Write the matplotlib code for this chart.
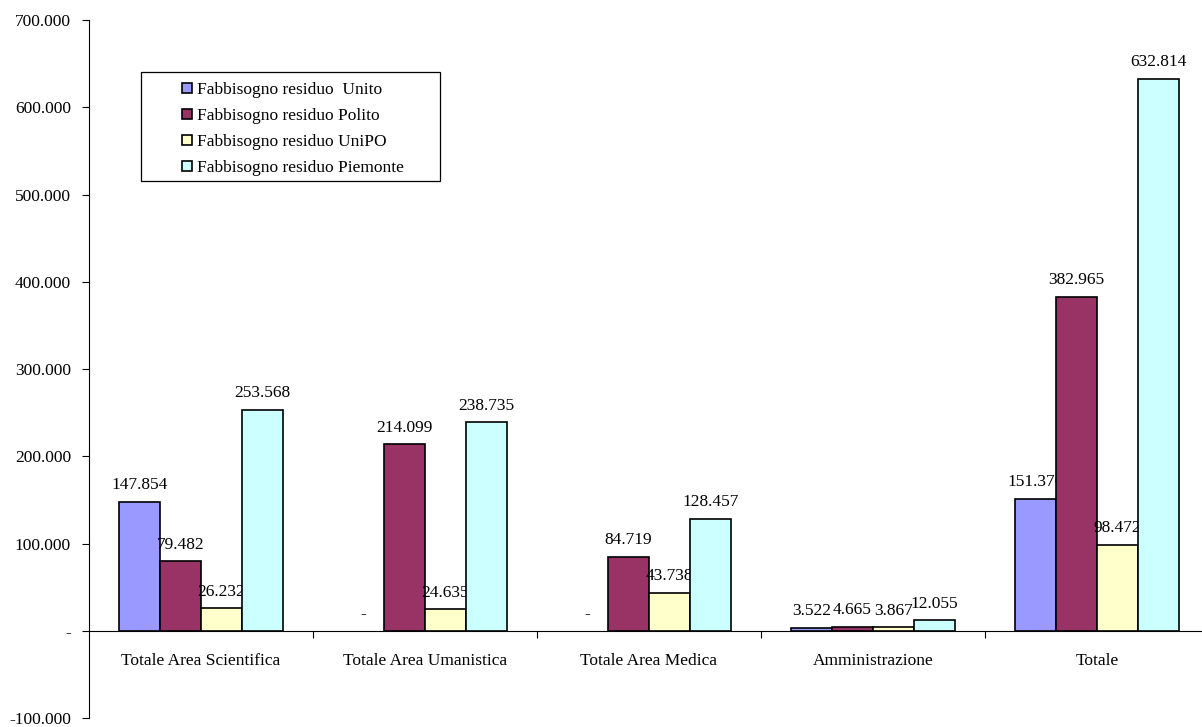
import numpy as np
import matplotlib
matplotlib.use("Agg")
import matplotlib.pyplot as plt
from matplotlib.patches import Rectangle
from matplotlib.ticker import FuncFormatter, FixedLocator

plt.rcParams['font.family'] = ['Liberation Serif', 'DejaVu Serif']

categories = ['Totale Area Scientifica', 'Totale Area Umanistica', 'Totale Area Medica',
              'Amministrazione', 'Totale']
series_names = ['Fabbisogno residuo  Unito', 'Fabbisogno residuo Polito',
                'Fabbisogno residuo UniPO', 'Fabbisogno residuo Piemonte']
unito = [147854, 0, 0, 3522, 151376]
polito = [79482, 214099, 84719, 4665, 382965]
unipo = [26232, 24635, 43738, 3867, 98472]
piemonte = [253568, 238735, 128457, 12055, 632814]
colors = ['#9999FF', '#993366', '#FFFFCC', '#CCFFFF']

FS = 12.5


def fmt_num(v):
    if v == 0:
        return '-'
    s = f"{abs(v):,.0f}".replace(',', '.')
    return '-' + s if v < 0 else s


fig = plt.figure(figsize=(12.02, 7.27), dpi=100)
# plot area runs a little past the right edge of the image, as in the original
ax = fig.add_axes([89 / 1202, 9 / 727, (1209 - 89) / 1202, (718 - 20) / 727])

x = np.arange(len(categories))
w = 0.183
for k, (vals, c, name) in enumerate(zip([unito, polito, unipo, piemonte], colors, series_names)):
    pos = x + (k - 1.5) * w
    # each series' labels sit above its own bars but under the next series
    bars = ax.bar(pos, vals, w, color=c, edgecolor='black', linewidth=1.2,
                  label=name, zorder=2 + 2 * k)
    for b, v in zip(bars, vals):
        if v == 0:
            b.set_linewidth(0)
    for p, v in zip(pos, vals):
        ax.annotate(fmt_num(v), (p, v), xytext=(0, 6),
                    textcoords='offset points', ha='center', va='bottom',
                    fontsize=FS, zorder=3 + 2 * k)

ax.set_xlim(-0.5, len(categories) - 0.5)
ax.set_ylim(-100000, 700000)
ax.yaxis.set_major_locator(FixedLocator(np.arange(-100000, 700001, 100000)))
ax.yaxis.set_major_formatter(FuncFormatter(lambda v, p: fmt_num(v)))
ax.tick_params(axis='y', direction='out', length=5, pad=8, labelsize=FS)

for s in ['top', 'right']:
    ax.spines[s].set_visible(False)
ax.spines['bottom'].set_position(('data', 0))
ax.spines['bottom'].set_zorder(12)
ax.xaxis.set_major_locator(FixedLocator(np.arange(0.5, len(categories) - 0.5, 1)))
ax.xaxis.set_major_formatter(FuncFormatter(lambda v, p: ''))
ax.xaxis.set_minor_locator(FixedLocator(x))
ax.set_xticklabels(categories, minor=True)
ax.tick_params(axis='x', which='major', direction='out', length=5)
ax.tick_params(axis='x', which='minor', length=0, pad=16, labelsize=FS)

# legend box (wider padding than the legend frame allows)
box = Rectangle((141 / 1202, 1 - 181 / 727), 299 / 1202, 109 / 727,
                transform=fig.transFigure, facecolor='white',
                edgecolor='black', linewidth=0.9, zorder=15, clip_on=False)
ax.add_patch(box)
leg = ax.legend(loc='upper left', bbox_to_anchor=(182 / 1202, 1 - 82 / 727),
                bbox_transform=fig.transFigure, frameon=False, fontsize=FS,
                handlelength=0.55, handleheight=0.55, handletextpad=0.3,
                borderpad=0, borderaxespad=0, labelspacing=0.58)
leg.set_zorder(16)

fig.savefig('out.png', dpi=100)
